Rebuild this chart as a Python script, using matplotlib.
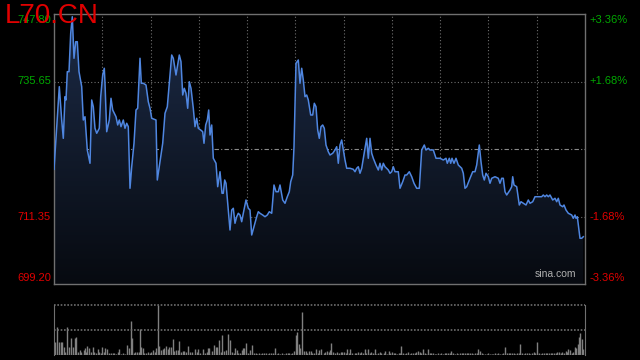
import numpy as np
import matplotlib
matplotlib.use("Agg")
import matplotlib.pyplot as plt
from matplotlib.colors import LinearSegmentedColormap

plt.rcParams['font.family'] = ['Liberation Sans', 'DejaVu Sans']

# =========================
# DATA
# =========================
title = "L70.CN"
prev_close = 723.50
price_ticks = [747.80, 735.65, 711.35, 699.20]
pct_ticks = ["+3.36%", "+1.68%", "-1.68%", "-3.36%"]

# time index (tick number) and price
minute = [0, 5.3, 7.7, 9.3, 11, 12, 13.3, 15, 16.7, 18.3, 20, 21.7, 23.3, 25, 27.7, 29.3, 31, 33.3, 36, 37.7,
          39.3, 41, 42.7, 45.3, 46.7, 48.7, 50.3, 51, 52.7, 55.3, 57, 58.7, 60.3, 62, 63.7, 65.3, 67, 69.3, 71, 72.7,
          74.3, 76, 77.7, 80, 82, 83.7, 86, 87.3, 89.3, 92, 94.3, 96, 97.7, 102, 103.3, 106, 108.7, 111, 113.3, 115.3,
          117.7, 119.3, 122, 123.7, 125.3, 127, 128.7, 130.3, 132, 133.7, 135.3, 137, 139.3, 141, 142.7, 144.3, 146.7,
          148.7, 150, 151.7, 153.3, 154.7, 156, 157.7, 159.3, 162, 163.7, 166, 168, 169.3, 170.7, 172, 173.7, 176,
          177.7, 179.3, 181, 182.7, 184.3, 186, 187.7, 189.3, 192, 194.3, 196, 197.7, 200, 202.7, 204.3, 206, 208.7,
          211, 213.3, 215.3, 217.7, 220, 222, 224.3, 226, 228.7, 231, 233.3, 235.3, 236.7, 238.7, 240, 242, 244.3,
          246, 247.7, 249.3, 251, 252.7, 254.3, 256.7, 258.7, 260.3, 262, 263.7, 265.3, 267, 268.7, 270.3, 272, 274.3,
          276, 278.7, 281, 282.7, 284.3, 286, 287.7, 289.3, 291, 292.7, 296, 299.3, 301, 302.7, 304.3, 306, 307.7,
          309.3, 311, 312.7, 314.3, 316, 317.7, 319.3, 322, 324.3, 326, 327.7, 329.3, 331, 334.3, 336, 337.7, 339.3,
          341, 344.3, 346, 348.7, 351, 352.7, 355.3, 357.7, 360, 362.7, 365.3, 367.7, 370.3, 372, 374.3, 376, 379.3,
          382, 386, 389.3, 392, 393.3, 395.3, 396.7, 398, 400, 402, 404.3, 407.7, 409.3, 411, 412.7, 416, 418.7, 421,
          422.7, 425.3, 427, 428.7, 430.3, 432, 434.3, 436, 437.7, 441, 444.3, 446, 447.7, 449.3, 451, 452.7, 456,
          457.7, 458.7, 460, 462.7, 465.3, 467, 469.3, 472, 474.3, 476, 478.7, 481, 487.7, 489.3, 491, 492.7, 494.3,
          496, 498.7, 501, 502.7, 504.3, 506, 508.7, 510, 512, 514.3, 517.7, 519.3, 521, 522, 523.3, 525, 526, 527.7,
          529.3]
price = [719.85, 734.72, 728.72, 725.42, 732.92, 732.32, 737.42, 737.42, 744.33, 747.31, 739.83, 742.81, 742.81,
         737.42, 734.72, 728.72, 729.31, 723.32, 720.93, 732.32, 731.11, 727.23, 726.33, 727.23, 732.92, 736.82,
         738.03, 735.33, 726.61, 728.72, 732.63, 730.52, 729.93, 729.31, 727.82, 728.72, 727.52, 728.72, 727.23,
         728.13, 727.52, 716.43, 720.31, 724.53, 730.52, 730.83, 739.83, 735.33, 735.33, 735.02, 732.01, 730.83,
         729.03, 728.72, 717.92, 721.21, 724.53, 729.93, 731.11, 735.33, 740.42, 739.83, 736.82, 738.62, 740.42,
         739.21, 733.22, 734.43, 733.53, 730.83, 735.61, 734.43, 730.83, 727.52, 729.03, 727.23, 726.92, 726.61,
         724.53, 727.82, 728.72, 730.52, 726.02, 727.82, 721.83, 720.93, 716.71, 719.41, 715.53, 715.53, 717.92,
         717.33, 713.73, 708.92, 712.52, 712.83, 710.13, 711.31, 711.93, 711.62, 710.41, 711.93, 714.32, 712.83,
         712.52, 708.02, 709.51, 711.31, 712.21, 711.93, 711.62, 711.31, 711.62, 712.21, 711.93, 717.02, 715.81,
         715.81, 717.02, 714.32, 713.73, 714.91, 715.81, 717.61, 718.82, 723.91, 738.93, 739.52, 735.33, 738.03,
         735.92, 732.92, 733.22, 732.32, 729.62, 729.62, 731.73, 731.11, 726.92, 725.42, 727.52, 727.82, 727.23,
         724.22, 723.01, 722.42, 722.73, 723.32, 723.91, 720.93, 724.22, 725.12, 723.32, 721.52, 720.03, 720.03,
         719.85, 719.41, 720.03, 720.31, 719.13, 720.03, 721.83, 723.63, 725.42, 721.83, 725.42, 722.73, 721.83,
         720.62, 719.72, 720.93, 719.72, 720.93, 720.31, 719.72, 719.13, 719.41, 720.31, 719.41, 719.41, 716.43,
         717.61, 718.82, 718.82, 719.41, 718.51, 717.33, 716.43, 716.43, 723.32, 724.22, 723.32, 723.63, 723.32,
         723.32, 721.83, 721.83, 721.52, 721.83, 720.93, 721.83, 720.93, 721.83, 720.93, 721.83, 720.62, 720.03,
         719.13, 716.43, 716.71, 718.23, 719.41, 719.41, 720.62, 724.22, 721.21, 718.82, 717.92, 719.13, 718.51,
         717.33, 718.23, 718.51, 718.23, 717.33, 718.23, 718.23, 715.81, 715.22, 716.12, 716.71, 718.51, 717.02,
         716.71, 713.42, 714.01, 713.73, 713.42, 714.32, 713.73, 714.01, 714.91, 714.91, 715.22, 714.91, 715.22,
         714.91, 715.22, 714.32, 714.63, 714.01, 714.63, 713.42, 713.11, 713.42, 712.52, 711.93, 711.62, 711.03,
         711.62, 711.03, 711.31, 708.92, 707.43, 707.43, 707.71]

# volume bars (relative units, 100 = panel top)
vol_t = [0.7, 3, 5.3, 6.7, 8.3, 9.7, 11.3, 13, 14.7, 17, 19, 21.3, 22.3, 24, 25.7, 27.3, 29.7, 30.7, 32.3, 33.3,
         35.3, 37, 38.7, 40.3, 42, 43.7, 45.3, 47, 48.3, 49.7, 51.3, 53, 54.7, 56.7, 58.7, 60.3, 62, 63.7, 65.3, 67,
         68.7, 71.3, 73, 74.7, 77, 78, 79.7, 81.3, 83, 84.7, 86, 87.3, 88.7, 90.3, 92.3, 94, 95.7, 97.3, 99, 100.7,
         102.3, 104.3, 105.3, 107, 108.7, 110.3, 112, 113.7, 115.3, 117, 118.7, 120.3, 122, 123.7, 125.3, 127,
         128.7, 130.3, 132, 134.3, 136, 138.3, 141, 142.7, 144.3, 146, 149.3, 151, 152.7, 154.3, 155.3, 157.7,
         160.3, 162, 163.3, 165.3, 167, 168.3, 170.3, 171.7, 174, 176, 177.7, 179.7, 181.3, 182.7, 184.3, 186.3,
         187.7, 189.3, 190.3, 192.3, 194.3, 196, 198.3, 200, 201.7, 203.3, 205, 206.7, 208.3, 210, 212, 213.7,
         215.3, 217, 219.3, 221, 222.7, 224.3, 226, 228.3, 230.3, 232, 233.7, 235.3, 237, 238.3, 240.3, 242,
         243.3, 245, 246.3, 248.3, 250, 251.7, 253.3, 255, 256.7, 258.3, 260.3, 262, 263.7, 265.3, 267.3, 269.7,
         271.3, 273, 274.7, 275.7, 277.3, 279, 280.7, 283, 285, 286.7, 288.3, 290, 291.7, 293.3, 295, 296.3, 298.3,
         300.7, 302.3, 304, 305.7, 307.3, 309, 310.7, 312.3, 314, 315.7, 317.3, 319, 320.7, 322.3, 324, 325.7,
         327.3, 329.7, 331.3, 333, 334.7, 336.3, 338, 339.7, 341.3, 343, 344.7, 346.3, 347.3, 349, 350.7, 352.3,
         354, 355.7, 357.3, 359, 360.7, 362.3, 364, 365.7, 367.3, 369, 370.7, 372.3, 374, 375.7, 377.3, 379,
         380.7, 382.3, 384, 385.7, 387.3, 389, 390.7, 392.3, 394, 395.7, 397.3, 399.3, 401, 402.7, 404.3, 406,
         407.7, 409.3, 411, 412.7, 414.3, 416, 417.7, 419.3, 421, 422.7, 424.3, 426, 427.7, 429.3, 431, 432.7,
         434.3, 436, 437.7, 439.3, 441, 442.7, 444.3, 446, 447.7, 449.3, 451.3, 453, 454.7, 456.3, 458, 459.7,
         461.3, 463, 464.7, 466.3, 468, 469.7, 471.3, 473, 474.7, 476.3, 478, 479.7, 481.3, 483.3, 485, 486.7,
         488.3, 490, 491.7, 493.3, 495, 496.7, 498.3, 500, 501.7, 503.3, 505, 506.7, 508.3, 510, 511.7, 513.3,
         514.3, 516, 517.7, 519.3, 520.7, 522.3, 523.7, 525, 526.3, 527.7, 529]
vol = [26.7, 56.7, 26.7, 26.7, 26.7, 16.7, 6.7, 56.7, 16.7, 33.3, 16.7, 33.3, 36.7, 6.7, 10, 6.7, 10, 13.3, 6.7,
       18, 13.3, 6.7, 15.3, 6.7, 3.3, 11.3, 6.7, 3.3, 16.7, 6.7, 13.3, 11.3, 3.3, 3.3, 3.3, 4.7, 2, 6.7, 11.3, 2,
       3.3, 2, 20, 13.3, 68.7, 34.7, 3.3, 5.3, 6.7, 6.7, 51.3, 16.7, 13.3, 4.7, 3.3, 6.7, 4.7, 6.7, 10, 6.7, 13.3,
       100, 18, 10, 11.3, 13.3, 18, 11.3, 16.7, 16.7, 31.3, 8.7, 10, 10, 28.7, 6.7, 8.7, 8.7, 6.7, 18, 6.7, 6.7,
       11.3, 6.7, 11.3, 3.3, 11.3, 4.7, 6.7, 13.3, 13.3, 8.7, 20, 16.7, 16.7, 30, 6.7, 40, 8.7, 10, 42, 30, 6.7,
       3.3, 13.3, 10, 3.3, 4.7, 10, 13.3, 13.3, 24.7, 3.3, 10, 20, 3.3, 4.7, 2, 3.3, 2, 4.7, 3.3, 3.3, 2, 3.3,
       4.7, 3.3, 13.3, 2, 3.3, 2, 3.3, 2, 3.3, 4.7, 3.3, 2, 3.3, 8.7, 40, 45.3, 22, 13.3, 85.3, 8.7, 8.7, 4.7,
       8.7, 8.7, 4.7, 3.3, 11.3, 4.7, 10, 11.3, 3.3, 6.7, 8.7, 6.7, 10, 24.7, 6.7, 3.3, 6.7, 3.3, 6.7, 6.7, 6.7,
       3.3, 11.3, 3.3, 11.3, 3.3, 3.3, 4.7, 6.7, 4.7, 6.7, 3.3, 11.3, 3.3, 11.3, 3.3, 6.7, 3.3, 11.3, 2, 3.3,
       6.7, 3.3, 3.3, 8, 2, 8, 3.3, 6.7, 4.7, 3.3, 2, 3.3, 3.3, 18, 3.3, 2, 3.3, 6.7, 2, 3.3, 3.3, 4.7, 6.7,
       8.7, 6.7, 3.3, 11.3, 3.3, 2, 11.3, 4.7, 3.3, 3.3, 2, 2, 3.3, 2, 3.3, 2, 3.3, 4.7, 3.3, 4.7, 8.7, 4.7, 2,
       3.3, 2, 4.7, 3.3, 4.7, 3.3, 4.7, 3.3, 4.7, 3.3, 2, 3.3, 4.7, 11.3, 8.7, 4.7, 2, 2, 2, 3.3, 2, 2, 2, 3.3,
       2, 3.3, 2, 2, 3.3, 16.7, 4.7, 3.3, 4.7, 3.3, 3.3, 2, 3.3, 4.7, 22, 3.3, 2, 3.3, 4.7, 3.3, 2, 4.7, 6.7,
       3.3, 26.7, 3.3, 2, 3.3, 4.7, 3.3, 4.7, 3.3, 4.7, 3.3, 4.7, 4.7, 6.7, 6.7, 3.3, 6.7, 4.7, 8.7, 6.7, 11.3,
       10, 3.3, 6.7, 16.7, 13.3, 22, 35.3, 44.7, 31.3, 11.3]

t_max = 531
n_vgrid = 11
grid_col = '#6e6e6e'
up_col = '#00a800'
down_col = '#e00000'

# =========================
# FIGURE
# =========================
fig = plt.figure(figsize=(6.4, 3.6), dpi=100, facecolor='black')
ax = fig.add_axes([54/640, 1-284/360, 531/640, 270/360])
axv = fig.add_axes([54/640, 1-355/360, 531/640, 50/360])

for a in (ax, axv):
    a.set_facecolor('black')
    a.set_xticks([])
    a.set_yticks([])
    a.set_xlim(0, t_max)

ylo, yhi = price_ticks[-1], price_ticks[0]
ax.set_ylim(ylo, yhi)
for s in ax.spines.values():
    s.set_color('#707070')
    s.set_linewidth(1)

# grid
for k in range(1, n_vgrid):
    ax.axvline(t_max * k / n_vgrid, color=grid_col, lw=0.8, ls=(0, (1, 2)), zorder=1)
for p in price_ticks[1:3]:
    ax.axhline(p, color=grid_col, lw=0.8, ls=(0, (1, 2)), zorder=1)
ax.axhline(prev_close, color='#8a8a8a', lw=0.8, ls=(0, (4, 2, 1, 2)), zorder=1)

# gradient fill under line
poly = ax.fill_between(minute, price, ylo, color='none', lw=0)
grad = np.linspace(1, 0, 256).reshape(-1, 1)
cmap = LinearSegmentedColormap.from_list('g', ['#070a10', '#1c2b47'])
im = ax.imshow(grad, cmap=cmap, aspect='auto', extent=[0, t_max, ylo, yhi], origin='upper', zorder=2)
im.set_clip_path(poly.get_paths()[0], transform=ax.transData)
ax.plot(minute, price, color='#4f86e0', lw=1.1, zorder=3)

# labels
tr = ax.get_yaxis_transform()
offs = [-1.0, 0, 0, 1.0]
for i, p in enumerate(price_ticks):
    col = up_col if p > prev_close else down_col
    ax.text(-0.006, p + offs[i], f"{p:.2f}", transform=tr, ha='right', va='center',
            color=col, fontsize=8, clip_on=False)
    ax.text(1.009, p + offs[i], pct_ticks[i], transform=tr, ha='left', va='center',
            color=col, fontsize=8, clip_on=False)

fig.text(5/640, 1-16/360, title, color='#e00000', fontsize=20, ha='left', va='center')
ax.text(0.983, 0.02, "sina.com", transform=ax.transAxes, ha='right', va='bottom',
        color='#b0b0b0', fontsize=7.5, zorder=4)

# volume panel
axv.set_ylim(0, 100)
axv.vlines(vol_t, 0, vol, color='#808080', lw=1.0)
for s in ('top', 'bottom'):
    axv.spines[s].set_visible(False)
for s in ('left', 'right'):
    axv.spines[s].set_color('#707070')
axv.axhline(100, color=grid_col, lw=1.2, ls=(0, (1, 1)), clip_on=False)
axv.axhline(50, color=grid_col, lw=1.2, ls=(0, (1, 1)))
axv.axhline(0.5, color=grid_col, lw=1.0, ls=(0, (1, 1)))

plt.savefig('out.png', dpi=100, facecolor='black')
